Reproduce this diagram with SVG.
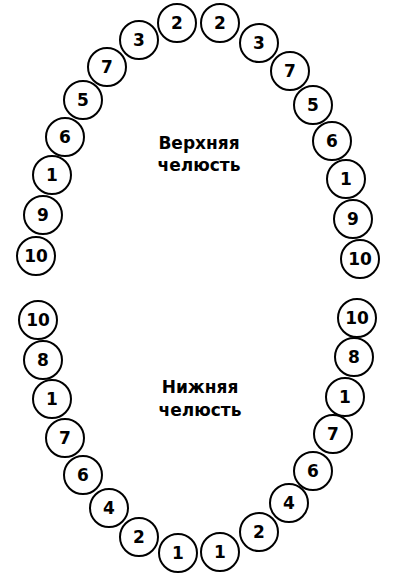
<svg xmlns="http://www.w3.org/2000/svg" width="400" height="578" viewBox="0 0 400 578">
<style>
  .t circle { fill: #fff; stroke: #000; stroke-width: 2; }
  .t text { font-family: "DejaVu Sans", Verdana, sans-serif; font-weight: bold; font-size: 17px; text-anchor: middle; fill: #000; }
  .lbl { font-family: "DejaVu Sans", Verdana, sans-serif; font-weight: bold; font-size: 17px; text-anchor: middle; fill: #000; }
</style>
<rect width="400" height="578" fill="#fff"/>
<g id="upper-jaw">
  <g id="u-l-2" class="t"><circle cx="177" cy="23" r="19"/><text x="177" y="29">2</text></g>
  <g id="u-l-3" class="t"><circle cx="139" cy="40" r="19"/><text x="139" y="46">3</text></g>
  <g id="u-l-7" class="t"><circle cx="107" cy="67" r="19"/><text x="107" y="73">7</text></g>
  <g id="u-l-5" class="t"><circle cx="83" cy="100" r="19"/><text x="83" y="106">5</text></g>
  <g id="u-l-6" class="t"><circle cx="65" cy="137" r="19"/><text x="65" y="143">6</text></g>
  <g id="u-l-1" class="t"><circle cx="52" cy="175" r="19"/><text x="52" y="181">1</text></g>
  <g id="u-l-9" class="t"><circle cx="43" cy="215" r="19"/><text x="43" y="221">9</text></g>
  <g id="u-l-10" class="t"><circle cx="36" cy="256" r="19"/><text x="36" y="262">10</text></g>
  <g id="u-r-2" class="t"><circle cx="220" cy="23" r="19"/><text x="220" y="29">2</text></g>
  <g id="u-r-3" class="t"><circle cx="259" cy="43" r="19"/><text x="259" y="49">3</text></g>
  <g id="u-r-7" class="t"><circle cx="290" cy="71" r="19"/><text x="290" y="77">7</text></g>
  <g id="u-r-5" class="t"><circle cx="313" cy="105" r="19"/><text x="313" y="111">5</text></g>
  <g id="u-r-6" class="t"><circle cx="332" cy="141" r="19"/><text x="332" y="147">6</text></g>
  <g id="u-r-1" class="t"><circle cx="346" cy="179" r="19"/><text x="346" y="185">1</text></g>
  <g id="u-r-9" class="t"><circle cx="353" cy="219" r="19"/><text x="353" y="225">9</text></g>
  <g id="u-r-10" class="t"><circle cx="360" cy="259" r="19"/><text x="360" y="265">10</text></g>
  <g id="upper-label"><text class="lbl" x="199" y="149">Верхняя</text><text class="lbl" x="199" y="171">челюсть</text></g>
</g>
<g id="lower-jaw">
  <g id="l-l-10" class="t"><circle cx="38" cy="320" r="19"/><text x="38" y="326">10</text></g>
  <g id="l-l-8" class="t"><circle cx="43" cy="360" r="19"/><text x="43" y="366">8</text></g>
  <g id="l-l-1" class="t"><circle cx="52" cy="399" r="19"/><text x="52" y="405">1</text></g>
  <g id="l-l-7" class="t"><circle cx="65" cy="438" r="19"/><text x="65" y="444">7</text></g>
  <g id="l-l-6" class="t"><circle cx="83" cy="475" r="19"/><text x="83" y="481">6</text></g>
  <g id="l-l-4" class="t"><circle cx="109" cy="508" r="19"/><text x="109" y="514">4</text></g>
  <g id="l-l-2" class="t"><circle cx="139" cy="537" r="19"/><text x="139" y="543">2</text></g>
  <g id="l-l-1b" class="t"><circle cx="178" cy="553" r="19"/><text x="178" y="559">1</text></g>
  <g id="l-r-10" class="t"><circle cx="357" cy="318" r="19"/><text x="357" y="324">10</text></g>
  <g id="l-r-8" class="t"><circle cx="354" cy="357" r="19"/><text x="354" y="363">8</text></g>
  <g id="l-r-1" class="t"><circle cx="345" cy="397" r="19"/><text x="345" y="403">1</text></g>
  <g id="l-r-7" class="t"><circle cx="333" cy="434" r="19"/><text x="333" y="440">7</text></g>
  <g id="l-r-6" class="t"><circle cx="313" cy="471" r="19"/><text x="313" y="477">6</text></g>
  <g id="l-r-4" class="t"><circle cx="289" cy="503" r="19"/><text x="289" y="509">4</text></g>
  <g id="l-r-2" class="t"><circle cx="259" cy="532" r="19"/><text x="259" y="538">2</text></g>
  <g id="l-r-1b" class="t"><circle cx="220" cy="552" r="19"/><text x="220" y="558">1</text></g>
  <g id="lower-label"><text class="lbl" x="200" y="393">Нижняя</text><text class="lbl" x="200" y="416">челюсть</text></g>
</g>
</svg>
